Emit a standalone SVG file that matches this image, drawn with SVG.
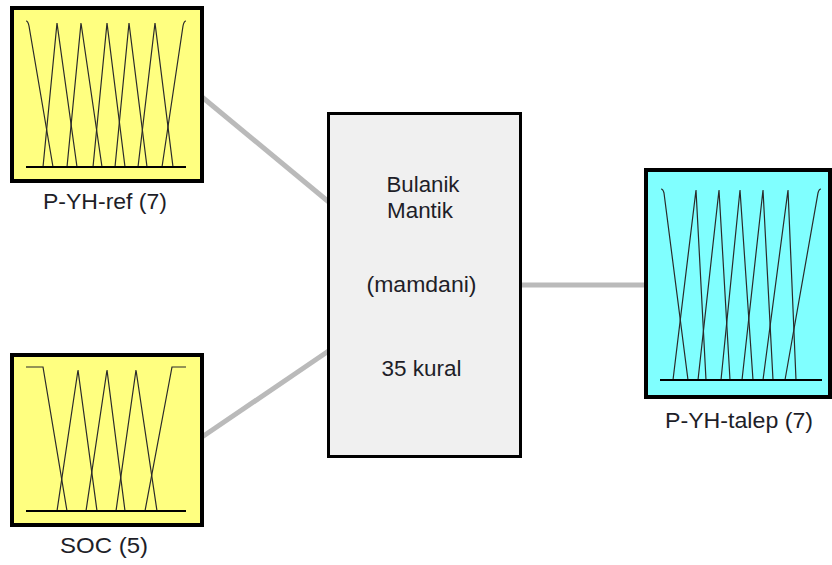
<svg xmlns="http://www.w3.org/2000/svg" width="832" height="565" viewBox="0 0 832 565">
<style>
.conn{stroke:#bababa;stroke-width:5;fill:none}
.box{stroke:#000;stroke-width:4}
.in{fill:#ffff80}
.out{fill:#80ffff}
.sys{fill:#f0f0f0;stroke:#000;stroke-width:3}
.mf{fill:none;stroke:#2a2a2a;stroke-width:1.2}
.base{stroke:#000;stroke-width:2}
.lbl{font-family:"Liberation Sans",Arial,sans-serif;font-size:22.5px;fill:#1e1e28}
.ctr{font-family:"Liberation Sans",Arial,sans-serif;font-size:22px;fill:#1e1e28}
</style>
<rect width="832" height="565" fill="#fff"/>
<g id="connectors">
<line class="conn" x1="202" y1="97" x2="330" y2="203"/>
<line class="conn" x1="202" y1="437" x2="330" y2="350"/>
<line class="conn" x1="520" y1="285" x2="646" y2="285"/>
</g>
<g id="input1">
<rect class="box in" x="12" y="8" width="190" height="173"/>
<path class="mf" d="M26,21 Q28,21 29,26 L53,167"/>
<path class="mf" d="M43,167 L57,23 L77,167"/>
<path class="mf" d="M67,167 L81,23 L102,167"/>
<path class="mf" d="M93,167 L107,23 L125,167"/>
<path class="mf" d="M115,167 L129,23 L147,167"/>
<path class="mf" d="M138,167 L155,23 L173,167"/>
<path class="mf" d="M162,167 L183,26 Q184,21 186,21"/>
<line class="base" x1="26" y1="167" x2="186" y2="167"/>
<text class="lbl" x="43" y="209" textLength="124" lengthAdjust="spacingAndGlyphs">P-YH-ref (7)</text>
</g>
<g id="input2">
<rect class="box in" x="12" y="355" width="190" height="170"/>
<path class="mf" d="M26,367 L43,367 L67,511"/>
<path class="mf" d="M57,511 L78,370 L97,511"/>
<path class="mf" d="M86,511 L107,370 L125,511"/>
<path class="mf" d="M116,511 L136,370 L157,511"/>
<path class="mf" d="M145,511 L172,367 L186,367"/>
<line class="base" x1="26" y1="511" x2="186" y2="511"/>
<text class="lbl" x="60" y="553" textLength="88" lengthAdjust="spacingAndGlyphs">SOC (5)</text>
</g>
<g id="system">
<rect class="sys" x="328.5" y="113.5" width="192" height="343"/>
<text class="ctr" x="386.5" y="192" textLength="73" lengthAdjust="spacingAndGlyphs">Bulanik</text>
<text class="ctr" x="387" y="218" textLength="66" lengthAdjust="spacingAndGlyphs">Mantik</text>
<text class="ctr" x="366.5" y="292" textLength="110" lengthAdjust="spacingAndGlyphs">(mamdani)</text>
<text class="ctr" x="381.5" y="376" textLength="80" lengthAdjust="spacingAndGlyphs">35 kural</text>
</g>
<g id="output1">
<rect class="box out" x="646" y="170" width="184" height="227"/>
<path class="mf" d="M661,189 Q663,189 664,193 L688,380"/>
<path class="mf" d="M673,380 L696,190 L706,380"/>
<path class="mf" d="M698,380 L719,190 L730,380"/>
<path class="mf" d="M721,380 L740,190 L753,380"/>
<path class="mf" d="M742,380 L763,190 L773,380"/>
<path class="mf" d="M763,380 L788,190 L796,380"/>
<path class="mf" d="M785,380 L818,193 Q819,189 821,189"/>
<line class="base" x1="660" y1="380" x2="822" y2="380"/>
<text class="lbl" x="665" y="428" textLength="148" lengthAdjust="spacingAndGlyphs">P-YH-talep (7)</text>
</g>
</svg>
